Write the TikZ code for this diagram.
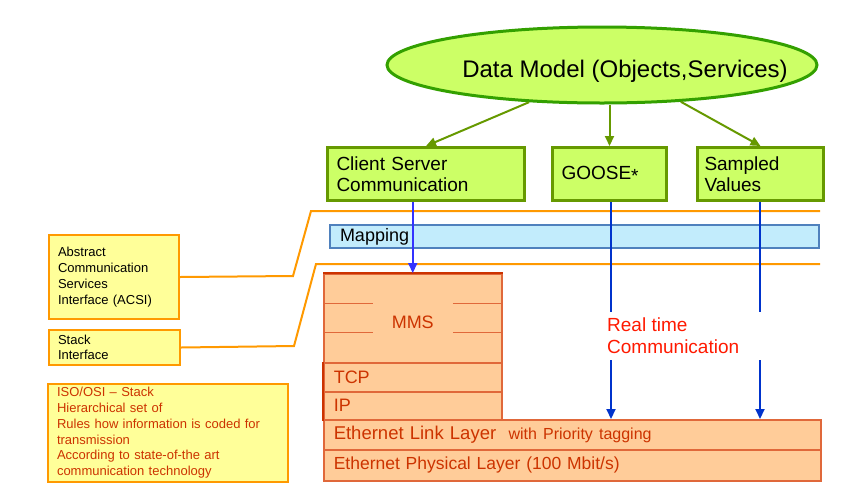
\documentclass[tikz,border=0pt]{standalone}
\usepackage{fontspec}
\setmainfont{Liberation Sans}
\usetikzlibrary{shapes.geometric,arrows.meta}

\definecolor{modelfill}{HTML}{CCFF66}
\definecolor{modeldraw}{HTML}{33A000}
\definecolor{servdraw}{HTML}{669900}
\definecolor{mapfill}{HTML}{C2ECFC}
\definecolor{mapdraw}{HTML}{4F81BD}
\definecolor{ifacefill}{HTML}{FFFF99}
\definecolor{ifacedraw}{HTML}{FF9900}
\definecolor{stackfill}{HTML}{FFCC99}
\definecolor{stackdraw}{HTML}{E0683A}
\definecolor{stacktext}{HTML}{CC3300}
\definecolor{flowblue}{HTML}{0033CC}

\begin{document}
\begin{tikzpicture}
[
  x=1pt,
  y=-1pt,
  model/.style={draw=modeldraw,line width=3pt,fill=modelfill,ellipse,minimum width=430,minimum height=76,text height=25pt,text depth=0pt,font=\fontsize{24}{28}\selectfont},
  serv/.style={draw=servdraw,line width=3pt,fill=modelfill,anchor=north west,minimum height=53,align=left,inner xsep=9pt,font=\fontsize{19}{21.5}\selectfont},
  iface/.style={draw=ifacedraw,line width=2pt,fill=ifacefill,anchor=north west,align=left,inner xsep=9pt,font=\fontsize{13}{16}\selectfont},
  layer/.style={draw=stackdraw,line width=1.5pt,fill=stackfill,anchor=north west,align=left,inner xsep=10pt,text=stacktext,font=\fontsize{18}{21}\selectfont},
  link/.style={draw=ifacedraw,line width=2pt},
  flow/.style={draw=flowblue,line width=2pt},
  tip/.style={-{Triangle[length=10pt,width=9pt]}},
  tree/.style={draw=servdraw,line width=2pt,-{Triangle[length=10pt,width=9pt]}}
]
\useasboundingbox (0,0) rectangle (846,499);

% Data model and services
\node[model] (dm) at (602,65) {\makebox[0pt]{\hspace*{46pt}Data Model (Objects,Services)}};
\node[serv,minimum width=197,text width=179] (cs) at (326,146) {Client Server\\Communication};
\node[serv,minimum width=114,text width=96] (goose) at (551,146) {GOOSE\raisebox{-0.3ex}{*}};
\node[serv,minimum width=126,text width=112,inner xsep=6pt] (sv) at (696,146) {Sampled\\Values};
\draw[tree] (dm.207) -- (cs.north);
\draw[tree] (dm.south -| goose.north) -- (goose.north);
\draw[tree] (dm.-25) -- (sv.north);

% Mapping
\node[draw=mapdraw,line width=2pt,fill=mapfill,anchor=north west,minimum width=489,minimum height=23,text width=469,inner xsep=10pt,font=\fontsize{18}{21}\selectfont] (map) at (329,224) {Mapping};

% Stack
\node[layer,minimum width=178,minimum height=89] (mms) at (323,273) {};
\node[text=stacktext,inner xsep=19pt,font=\fontsize{18}{21}\selectfont] (mmstext) at ([yshift=-4pt]mms.center) {MMS};
\draw[stackdraw,line width=1pt] (mms.west |- 0,303) -- (mmstext.west |- 0,303) (mmstext.east |- 0,303) -- (mms.east |- 0,303);
\draw[stackdraw,line width=1pt] (mms.west |- 0,332) -- (mmstext.west |- 0,332) (mmstext.east |- 0,332) -- (mms.east |- 0,332);
\draw[stacktext,line width=2.5pt] (mms.north west) -- (mms.north east);
\node[layer,minimum width=178,minimum height=29,text width=158] (tcp) at (323,362) {TCP};
\node[layer,minimum width=178,minimum height=28,text width=158] (ip) at (323,391) {IP};
\node[layer,minimum width=497,minimum height=30,text width=477,font=\fontsize{18.5}{21}\selectfont] (eth) at (323,419) {Ethernet Link Layer\ \ {\fontsize{16}{19}\selectfont with Priority tagging}};
\node[layer,minimum width=497,minimum height=31,text width=477,font=\fontsize{17.5}{20}\selectfont] (phy) at (323,449) {Ethernet Physical Layer (100 Mbit/s)};
\draw[stacktext,line width=2.5pt] (tcp.north west) -- (ip.south west);

% Interfaces
\node[iface,minimum width=130,minimum height=84,text width=112] (acsi) at (48,234) {Abstract\\Communication\\Services\\Interface (ACSI)};
\node[iface,minimum width=131,minimum height=35,text width=113,font=\fontsize{13}{15.5}\selectfont] (stack) at (48,329) {Stack\\Interface};
\node[iface,minimum width=240,minimum height=97,text width=222,text=stacktext,font=\fontsize{13}{15.8}\selectfont] (iso) at (47,383) {ISO/OSI -- Stack\\Hierarchical set of\\Rules how information is coded for\\transmission\\According to state-of-the art\\communication technology};
\coordinate (acsiend) at (820,211);
\coordinate (stackend) at (820,264);
\draw[link] (acsi.east) -- (293,276) -- (311,211) -- (acsiend);
\draw[link] (stack.east) -- (294,346) -- (316,264) -- (stackend);

% Flows
\node[anchor=west,align=left,inner xsep=0pt,inner ysep=6pt,text=red!80!orange,font=\fontsize{19}{22}\selectfont] (rt) at (607,336) {Real time\\Communication};
\draw[draw=blue!80,line width=2pt,tip] (cs.south -| mms.north) -- (mms.north);
\draw[flow] (goose.south -| 611,0) -- (rt.north -| 611,0);
\draw[flow,tip] (rt.south -| 611,0) -- (eth.north -| 611,0);
\draw[flow] (sv.south -| 760,0) -- (rt.north -| 760,0);
\draw[flow,tip] (rt.south -| 760,0) -- (eth.north -| 760,0);

\end{tikzpicture}
\end{document}
